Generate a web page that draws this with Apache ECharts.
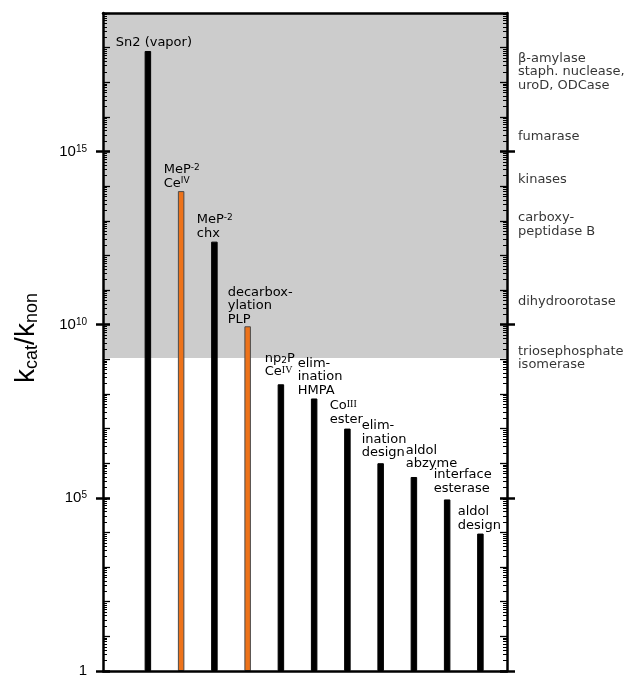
<!DOCTYPE html>
<html>
<head>
<meta charset="utf-8">
<script src="https://cdn.jsdelivr.net/npm/echarts@6/dist/echarts.min.js"></script>
<style>
  html, body { margin: 0; padding: 0; background: #fff; }
  #chart { width: 632px; height: 676px; }
</style>
</head>
<body>
<div id="chart"></div>
<script>
// Catalysts, ordered by rate enhancement (kcat/knon)
const catalysts = ['Sn2 (vapor)', 'MeP-2 CeIV', 'MeP-2 chx', 'decarboxylation PLP', 'np2P CeIV',
  'elimination HMPA', 'CoIII ester', 'elimination design', 'aldol abzyme', 'interface esterase', 'aldol design'];
const rateEnhancement = [8e17, 7.2e13, 2.5e12, 9e9, 1.9e8, 7.4e7, 1e7, 1e6, 4e5, 9e4, 9.3e3];
// Orange bars mark the metal-phosphate / PLP systems
const highlighted = [false, true, false, true, false, false, false, false, false, false, false];
// Rich-text captions drawn above each bar
const barLabels = [
  'Sn2 (vapor)',
  'MeP{sup|-2}\nCe{sup|IV}',
  'MeP{sup|-2}\nchx',
  'decarbox-\nylation\nPLP',
  'np{sub|2}P\nCe{rsup|IV}',
  'elim-\nination\nHMPA',
  'Co{rsup|III}\nester',
  'elim-\nination\ndesign',
  'aldol\nabzyme',
  'interface\nesterase',
  'aldol\ndesign'
];

// Natural enzymes listed along the right axis
const enzymes = ['β-amylase\nstaph. nuclease,\nuroD, ODCase', 'fumarase', 'kinases',
  'carboxy-\npeptidase B', 'dihydroorotase', 'triosephosphate\nisomerase'];
const enzymeRates = [2e17, 2.7e15, 1.55e14, 7.8e12, 4.7e10, 1.1e9];

// Labelled decades on the left axis
const majorTicks = [1, 1e5, 1e10, 1e15];

// Layout settings
const Y_MIN = 1, Y_MAX = 1e19;
const X_MIN = -1.35, X_MAX = 10.8;
// caption anchor relative to the bar's top-left corner
const labelShift = [[-28.9, -1.8], [-14.2, -1.2], [-14.4, -1.5], [-16.7, -0.2], [-12.9, -5.5],
  [-13.2, -1.5], [-14.4, -2.5], [-15.7, -3.5], [-4.9, -6.2], [-10.2, -4.2], [-19.4, -1.5]];

const decadeTicks = [];
for (let n = 0; n <= 19; n++) decadeTicks.push(Math.pow(10, n));
const minorTicks = [];
for (let n = 0; n < 19; n++) for (let k = 2; k <= 9; k++) minorTicks.push(k * Math.pow(10, n));

const SANS = 'DejaVu Sans';
const ARIAL = 'Liberation Sans';

function logAxis(position, extra) {
  return Object.assign({
    type: 'log', logBase: 10, min: Y_MIN, max: Y_MAX, position: position, z: 10,
    axisLine: { show: false, onZero: false },
    axisTick: { show: false },
    axisLabel: { show: false },
    splitLine: { show: false },
    minorTick: { show: false },
    minorSplitLine: { show: false }
  }, extra);
}
function tickAxis(position, values, length, width, inside) {
  return logAxis(position, {
    axisTick: { show: true, inside: inside, length: length, customValues: values,
      lineStyle: { color: '#000', width: width } }
  });
}

const yAxes = [
  // main left axis with decade labels
  logAxis('left', {
    axisLine: { show: true, onZero: false, lineStyle: { color: '#000', width: 2.5 } },
    axisTick: { show: true, inside: false, length: 7, customValues: majorTicks,
      lineStyle: { color: '#000', width: 2.5 } },
    axisLabel: {
      show: true, customValues: majorTicks, margin: 16,
      formatter: function (v) {
        const e = Math.round(Math.log10(v));
        return e === 0 ? '{b|1}' : '{b|10}{s|' + e + '}';
      },
      rich: {
        b: { fontFamily: ARIAL, fontSize: 15, lineHeight: 15, color: '#000' },
        s: { fontFamily: ARIAL, fontSize: 10, lineHeight: 10, verticalAlign: 'top', color: '#000' }
      }
    }
  }),
  tickAxis('left', majorTicks, 7, 2.5, true),
  tickAxis('left', decadeTicks, 7, 1.3, true),
  tickAxis('left', minorTicks, 4, 1, true),
  // right axis
  logAxis('right', {
    axisLine: { show: true, onZero: false, lineStyle: { color: '#000', width: 2.5 } },
    axisTick: { show: true, inside: false, length: 8, customValues: majorTicks,
      lineStyle: { color: '#000', width: 2.5 } }
  }),
  tickAxis('right', majorTicks, 7, 2.5, true),
  tickAxis('right', decadeTicks, 7, 1.3, true),
  tickAxis('right', minorTicks, 4, 1, true)
];

function flatX(position) {
  return {
    type: 'value', min: X_MIN, max: X_MAX, position: position, z: 10,
    axisLine: { show: true, onZero: false, lineStyle: { color: '#000', width: 2.5 } },
    axisTick: { show: false }, axisLabel: { show: false }, splitLine: { show: false }
  };
}

const barData = rateEnhancement.map(function (v, i) {
  return {
    value: [i, v],
    name: catalysts[i],
    itemStyle: highlighted[i]
      ? { color: '#ED7219', borderColor: '#4a4a4a', borderWidth: 1 }
      : { color: '#000', borderColor: '#000', borderWidth: 1 },
    label: { position: labelShift[i] }
  };
});

const chart = echarts.init(document.getElementById('chart'), null, { renderer: 'canvas' });
chart.setOption({
  animation: false,
  backgroundColor: '#fff',
  grid: { left: 103, right: 125, top: 13, bottom: 5, containLabel: false, outerBoundsMode: 'none' },
  xAxis: [flatX('bottom'), flatX('top')],
  yAxis: yAxes,
  graphic: [{
    type: 'text', x: 26, y: 338, rotation: Math.PI / 2, z: 20,
    style: {
      text: '{k|k}{s|cat}{k|/k}{s|non}',
      align: 'center', verticalAlign: 'middle', fill: '#000',
      rich: {
        k: { fontFamily: ARIAL, fontSize: 28, lineHeight: 30, fill: '#000' },
        s: { fontFamily: ARIAL, fontSize: 18, lineHeight: 18, verticalAlign: 'bottom', fill: '#000' }
      }
    }
  }],
  series: [
    {
      type: 'bar', xAxisIndex: 0, yAxisIndex: 0, barWidth: 6.5, z: 3, silent: true,
      data: barData,
      label: {
        show: true, align: 'left', verticalAlign: 'bottom',
        fontFamily: SANS, fontSize: 13, lineHeight: 13.5, color: '#000',
        formatter: function (p) { return barLabels[p.dataIndex]; },
        rich: {
          sup: { fontFamily: SANS, fontSize: 9, lineHeight: 9, verticalAlign: 'top', color: '#000' },
          sub: { fontFamily: SANS, fontSize: 9, lineHeight: 9, verticalAlign: 'bottom', color: '#000' },
          rsup: { fontFamily: 'Liberation Serif', fontSize: 10, lineHeight: 10, verticalAlign: 'top', color: '#000' }
        }
      },
      markArea: {
        silent: true,
        itemStyle: { color: '#cccccc', opacity: 1, borderWidth: 0 },
        data: [[{ yAxis: enzymeRates[enzymeRates.length - 1] }, { yAxis: Y_MAX }]]
      }
    },
    {
      type: 'scatter', xAxisIndex: 0, yAxisIndex: 0, symbolSize: 0, clip: false, silent: true, z: 5,
      data: enzymes.map(function (name, i) { return { value: [X_MAX, enzymeRates[i]], name: name }; }),
      label: {
        show: true, position: 'right', distance: 11, align: 'left', verticalAlign: 'middle',
        fontFamily: SANS, fontSize: 13, lineHeight: 13.5, color: '#000',
        formatter: function (p) { return p.name; }
      }
    }
  ]
});
</script>
</body>
</html>
